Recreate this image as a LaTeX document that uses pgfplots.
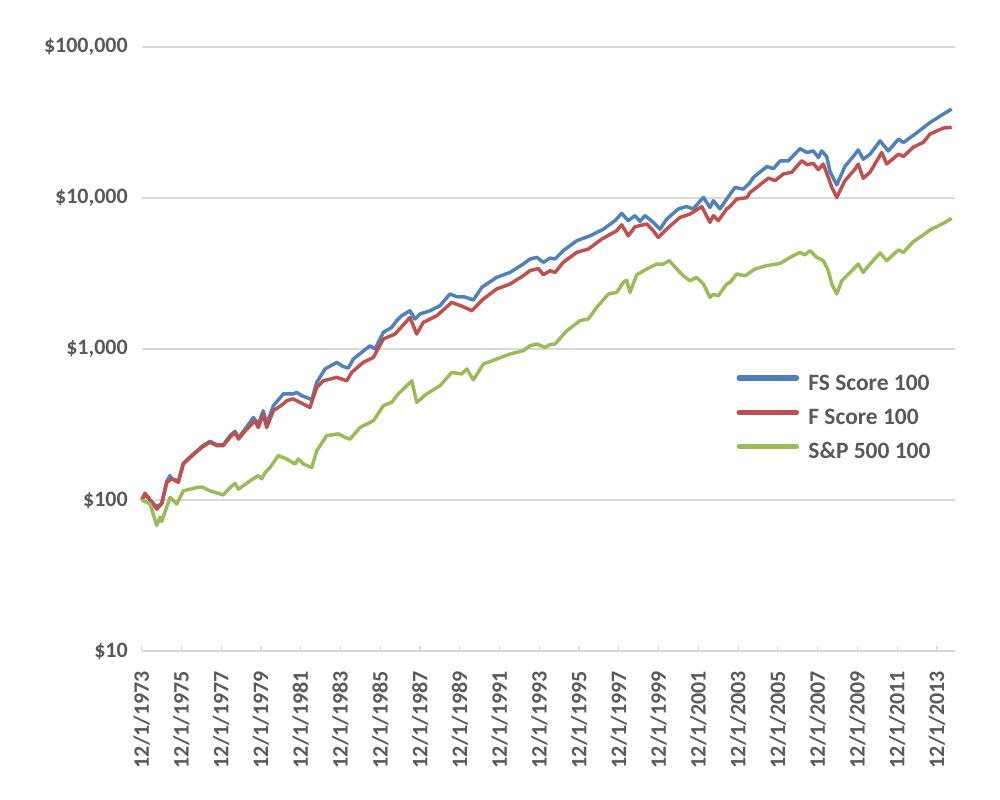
\documentclass[border=0pt]{standalone}
\usepackage{pgfplots}
\pgfplotsset{compat=1.18}
\usepackage{fontspec}
\setmainfont{Carlito}
\definecolor{fsblue}{HTML}{4F81BD}
\definecolor{fred}{HTML}{C0504D}
\definecolor{spgreen}{HTML}{9BBB59}
\definecolor{txtgray}{HTML}{595959}
\definecolor{gridgray}{HTML}{D9D9D9}
\begin{document}
\begin{tikzpicture}
\useasboundingbox (-106.3pt,-111.75pt) rectangle (643.7pt,488.25pt);
\begin{axis}[
  at={(0,0)}, anchor=south west,
  scale only axis, width=610pt, height=453pt,
  xmin=1973.917, xmax=2014.83,
  ymode=log, ymin=10, ymax=100000,
  ytick={10,100,1000,10000,100000},
  yticklabels={{\$10},{\$100},{\$1,000},{\$10,000},{\$100,000}},
  xtick={1973.917,1975.917,1977.917,1979.917,1981.917,1983.917,1985.917,1987.917,1989.917,1991.917,1993.917,1995.917,1997.917,1999.917,2001.917,2003.917,2005.917,2007.917,2009.917,2011.917,2013.917},
  xticklabels={12/1/1973,12/1/1975,12/1/1977,12/1/1979,12/1/1981,12/1/1983,12/1/1985,12/1/1987,12/1/1989,12/1/1991,12/1/1993,12/1/1995,12/1/1997,12/1/1999,12/1/2001,12/1/2003,12/1/2005,12/1/2007,12/1/2009,12/1/2011,12/1/2013},
  axis x line*=bottom, axis y line*=left,
  x axis line style={draw=gridgray, line width=0.9pt},
  y axis line style={draw=none},
  ytick style={draw=none},
  xtick style={draw=gridgray, line width=0.9pt},
  tick align=inside, major tick length=3.5pt,
  ymajorgrids, grid style={gridgray, line width=0.9pt},
  yminorgrids=false, minor y tick num=0,
  yticklabel style={anchor=east, inner sep=0pt, xshift=-10.3pt, font=\fontsize{16.5}{19}\selectfont\bfseries, text=txtgray},
  xticklabel style={rotate=90, anchor=east, inner sep=0pt, font=\fontsize{16.5}{19}\selectfont\bfseries, text=txtgray},
  xticklabel shift=15pt,
  /pgf/number format/assume math mode=true,
  clip=false,
  legend style={at={(0.731,0.459)}, anchor=north west, draw=none, fill=none,
    font=\fontsize{17.6}{20}\selectfont\bfseries, text=txtgray,
    inner sep=0pt, column sep=7pt, row sep=10.8pt,
    nodes={inner sep=0pt, text height=12pt, text depth=3pt}},
  legend cell align=left,
  legend image code/.code={\draw[#1, line width=3.9pt, line cap=round] (0pt,4.5pt) -- (43pt,4.5pt);},
  every axis plot/.append style={line width=2.6pt, line join=round},
]
\addplot[fsblue] coordinates {
(1973.92,100) (1974.08,109) (1974.67,90) (1974.92,95) (1975.18,133) (1975.34,145) (1975.43,138) (1975.76,134)
(1976.01,175) (1976.35,193) (1976.94,226) (1977.35,245) (1977.69,232) (1978.02,232) (1978.36,267) (1978.61,285)
(1978.78,258) (1979.20,305) (1979.53,352) (1979.78,318) (1980.03,390) (1980.20,320) (1980.54,421) (1981.04,504)
(1981.54,504) (1981.71,516) (1981.97,491) (1982.38,467) (1982.47,462) (1982.72,601) (1983.14,738) (1983.73,815)
(1984.06,764) (1984.31,748) (1984.56,858) (1984.98,950) (1985.40,1051) (1985.65,1000) (1986.07,1289) (1986.49,1390)
(1986.74,1540) (1986.99,1660) (1987.41,1793) (1987.66,1580) (1987.92,1707) (1988.42,1793) (1988.92,1936) (1989.42,2313)
(1989.76,2220) (1990.18,2210) (1990.60,2109) (1991.02,2558) (1991.77,2980) (1992.44,3214) (1993.11,3654) (1993.45,3944)
(1993.79,4045) (1994.12,3750) (1994.46,4000) (1994.71,3944) (1995.12,4480) (1995.80,5210) (1996.47,5620) (1997.14,6220)
(1997.72,7077) (1998.06,7910) (1998.39,7077) (1998.73,7640) (1998.98,7000) (1999.23,7640) (1999.65,6900) (1999.99,6220)
(2000.33,7260) (2000.91,8460) (2001.33,8770) (2001.66,8460) (2002.17,10100) (2002.50,8650) (2002.67,9590) (2003.01,8460)
(2003.34,9840) (2003.76,11750) (2004.18,11450) (2004.52,12670) (2004.68,13680) (2005.36,16140) (2005.69,15660) (2006.03,17590)
(2006.44,17590) (2007.03,21240) (2007.37,20010) (2007.70,20500) (2007.95,18520) (2008.12,20500) (2008.37,18840) (2008.54,14960)
(2008.88,12210) (2009.29,16180) (2009.71,18840) (2009.96,20800) (2010.21,18070) (2010.55,19500) (2011.06,23880) (2011.47,20500)
(2011.98,24500) (2012.23,23290) (2012.82,26530) (2013.15,28650) (2013.57,31620) (2014.24,35940) (2014.66,38800)
};
\addlegendentry{FS Score 100}
\addplot[fred] coordinates {
(1973.92,100) (1974.08,111) (1974.67,87) (1974.92,94) (1975.18,131) (1975.43,138) (1975.76,131) (1976.01,173)
(1976.35,191) (1976.94,223) (1977.35,241) (1977.69,229) (1978.02,229) (1978.36,260) (1978.61,280) (1978.78,253)
(1979.20,295) (1979.62,335) (1979.78,302) (1980.03,370) (1980.20,302) (1980.54,390) (1981.04,433) (1981.21,455)
(1981.54,467) (1981.88,443) (1982.38,410) (1982.72,557) (1983.05,616) (1983.39,632) (1983.73,649) (1984.23,616)
(1984.48,700) (1985.06,815) (1985.57,880) (1986.07,1165) (1986.66,1256) (1987.41,1618) (1987.75,1256) (1988.08,1500)
(1988.76,1660) (1989.51,2036) (1990.09,1905) (1990.52,1793) (1991.10,2143) (1991.77,2495) (1992.44,2692) (1993.11,3053)
(1993.45,3306) (1993.87,3410) (1994.12,3104) (1994.46,3300) (1994.71,3214) (1995.12,3750) (1995.80,4365) (1996.38,4590)
(1997.06,5345) (1997.81,6070) (1998.06,6650) (1998.39,5620) (1998.73,6450) (1999.32,6730) (1999.65,6070) (1999.90,5480)
(2000.41,6380) (2000.99,7430) (2001.50,7830) (2002.09,8770) (2002.50,6900) (2002.67,7640) (2002.92,7077) (2003.34,8460)
(2003.51,8790) (2003.85,9840) (2004.35,10050) (2004.52,10900) (2004.85,11750) (2005.44,13550) (2005.77,13030) (2006.19,14410)
(2006.61,14790) (2007.12,17670) (2007.37,16630) (2007.70,16950) (2007.95,15410) (2008.20,16790) (2008.45,13720) (2008.63,11750)
(2008.88,10090) (2009.29,13030) (2009.80,15550) (2009.96,16790) (2010.21,13500) (2010.55,14790) (2011.14,20010) (2011.39,16800)
(2011.98,19500) (2012.23,18840) (2012.73,21700) (2013.23,23370) (2013.57,26530) (2014.24,29060) (2014.66,29370)
};
\addlegendentry{F Score 100}
\addplot[spgreen] coordinates {
(1973.92,100) (1974.34,94) (1974.67,68) (1974.84,77) (1974.92,72) (1975.34,104) (1975.68,94) (1976.01,115)
(1976.68,121) (1976.94,122) (1977.35,115) (1978.02,108) (1978.36,121) (1978.61,129) (1978.78,118) (1979.37,134)
(1979.78,145) (1979.95,138) (1980.12,152) (1980.37,164) (1980.79,197) (1981.21,187) (1981.63,173) (1981.79,187)
(1982.05,173) (1982.47,164) (1982.72,212) (1983.22,267) (1983.81,274) (1984.14,260) (1984.39,253) (1984.90,302)
(1985.57,335) (1986.07,421) (1986.49,443) (1986.82,504) (1987.16,557) (1987.50,616) (1987.75,443) (1988.25,504)
(1988.92,571) (1989.51,700) (1990.01,683) (1990.27,738) (1990.60,624) (1991.10,795) (1991.77,858) (1992.44,926)
(1993.11,975) (1993.45,1051) (1993.79,1080) (1994.20,1025) (1994.46,1070) (1994.71,1080) (1995.30,1322) (1995.96,1540)
(1996.38,1580) (1996.80,1884) (1997.39,2313) (1997.81,2370) (1998.14,2762) (1998.31,2850) (1998.48,2370) (1998.82,3104)
(1999.32,3388) (1999.82,3654) (2000.15,3654) (2000.46,3846) (2000.83,3388) (2001.16,3053) (2001.50,2832) (2001.83,2980)
(2002.17,2692) (2002.50,2198) (2002.67,2300) (2002.92,2254) (2003.34,2692) (2003.51,2762) (2003.85,3140) (2004.26,3053)
(2004.77,3388) (2005.36,3565) (2006.03,3687) (2006.53,4045) (2007.03,4365) (2007.28,4200) (2007.53,4480) (2007.87,4045)
(2008.20,3846) (2008.45,3306) (2008.63,2692) (2008.88,2313) (2009.13,2832) (2009.55,3214) (2009.96,3654) (2010.21,3214)
(2010.55,3654) (2011.06,4325) (2011.39,3846) (2011.98,4530) (2012.23,4365) (2012.73,5140) (2013.23,5690) (2013.57,6140)
(2014.24,6800) (2014.66,7330)
};
\addlegendentry{S\&P 500 100}
\end{axis}
\end{tikzpicture}
\end{document}
